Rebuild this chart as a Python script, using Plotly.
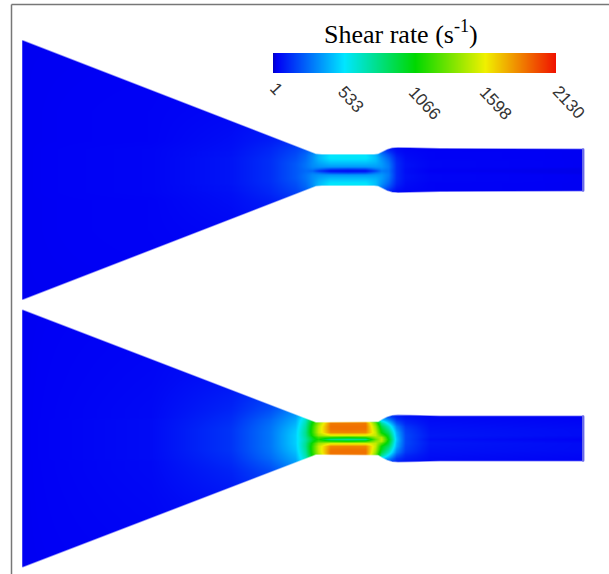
import numpy as np
import plotly.graph_objects as go

title_text = "Shear rate (s<sup>-1</sup>)"
tick_values = [1, 533, 1066, 1598, 2130]
tick_labels = ["1", "533", "1066", "1598", "2130"]
tick_label_x = [276, 351, 425, 496, 569]
tick_label_y = [88, 99, 103, 103, 102]

color_stops = [[0, "#0000c8"], [0.012, "#0000f5"], [0.25, "#00e6ff"], [0.5, "#00d800"], [0.75, "#f0f000"], [1, "#f01000"]]

station_x = [23, 150, 230, 270, 295, 305, 312, 318, 330, 347, 365, 375, 381, 388, 396, 405, 430, 583]
wall_offset = [0, 2, 4, 7, 10, 13, 16, 19, 22, 30, 60, 130]

outline_x = [23, 316, 322, 374, 378, 382, 387, 392, 398, 410, 440, 583]
upper_half = [130, 16.5, 16, 16, 16.5, 18.5, 21, 22.5, 23, 22.8, 22, 21.5]
lower_half = [129, 16.5, 16.5, 16.5, 17, 19.5, 22, 23.5, 24, 23.8, 23, 23]
upper_center = 170
lower_center = 438.5

upper_rate = [
    [25, 35, 70, 130, 220, 260, 250, 150, 50, 40, 50, 180, 300, 280, 120, 55, 25, 20],
    [25, 35, 70, 130, 220, 270, 300, 270, 190, 170, 190, 290, 330, 290, 120, 55, 30, 20],
    [25, 35, 70, 130, 220, 280, 330, 350, 360, 360, 360, 370, 360, 300, 120, 60, 35, 25],
    [25, 35, 70, 130, 220, 280, 340, 380, 430, 430, 430, 410, 370, 290, 120, 60, 35, 25],
    [25, 35, 70, 130, 210, 270, 340, 410, 490, 490, 490, 440, 360, 270, 110, 55, 35, 25],
    [25, 35, 70, 125, 200, 260, 340, 430, 540, 550, 540, 450, 340, 240, 100, 50, 30, 25],
    [25, 35, 65, 120, 190, 250, 330, 420, 530, 540, 530, 430, 300, 200, 80, 45, 30, 25],
    [25, 35, 65, 115, 180, 230, 300, 380, 500, 500, 500, 380, 240, 140, 60, 40, 30, 25],
    [25, 35, 60, 110, 170, 210, 250, 300, 350, 350, 350, 280, 160, 90, 50, 35, 25, 25],
    [25, 30, 55, 90, 130, 150, 160, 160, 160, 160, 160, 130, 90, 60, 40, 30, 25, 25],
    [25, 30, 40, 60, 70, 70, 70, 70, 70, 70, 70, 60, 50, 40, 30, 25, 25, 25],
    [25, 25, 30, 30, 30, 30, 30, 30, 30, 30, 30, 30, 30, 30, 25, 25, 25, 25],
]

lower_rate = [
    [25, 50, 140, 290, 480, 720, 980, 1120, 800, 760, 800, 1300, 1500, 1050, 450, 180, 60, 30],
    [25, 50, 140, 290, 480, 740, 1020, 1220, 1150, 1100, 1150, 1400, 1450, 1000, 440, 180, 70, 40],
    [25, 50, 140, 290, 480, 760, 1120, 1400, 1560, 1560, 1560, 1500, 1250, 950, 420, 180, 75, 50],
    [25, 50, 140, 290, 470, 770, 1170, 1500, 1850, 1860, 1850, 1500, 1050, 850, 400, 170, 70, 50],
    [25, 50, 140, 285, 460, 750, 1170, 1500, 1890, 1900, 1890, 1450, 1000, 750, 350, 160, 65, 50],
    [25, 50, 135, 280, 440, 730, 1150, 1480, 1900, 1900, 1900, 1400, 900, 650, 300, 140, 60, 45],
    [25, 50, 130, 270, 420, 700, 1100, 1400, 1880, 1880, 1880, 1300, 750, 500, 220, 110, 55, 40],
    [25, 50, 125, 260, 400, 660, 1000, 1250, 1700, 1700, 1700, 1000, 500, 350, 150, 90, 50, 35],
    [25, 45, 120, 240, 380, 600, 800, 950, 1200, 1200, 1200, 700, 350, 220, 110, 70, 45, 30],
    [25, 45, 105, 200, 320, 420, 500, 550, 550, 550, 550, 400, 200, 120, 70, 50, 35, 30],
    [25, 40, 70, 110, 130, 130, 130, 130, 130, 130, 130, 110, 80, 60, 40, 30, 25, 25],
    [25, 30, 35, 40, 40, 40, 40, 40, 40, 40, 40, 40, 35, 30, 25, 25, 25, 25],
]


def mirrored(center, table):
    half = np.array(table, dtype=float)
    z = np.vstack([half[:0:-1], half])
    off = np.array(wall_offset, dtype=float)
    y = np.concatenate([center - off[:0:-1], center + off])
    z = np.pad(z, 1, mode="edge")
    y = np.concatenate([[y[0] - 1], y, [y[-1] + 1]])
    x = np.concatenate([[station_x[0] - 0.5], station_x, [station_x[-1] + 1]])
    return x, y, z


fig = go.Figure()
for center, table in ((upper_center, upper_rate), (lower_center, lower_rate)):
    x, y, z = mirrored(center, table)
    fig.add_trace(go.Heatmap(x=x, y=y, z=z, zsmooth="best", coloraxis="coloraxis", hoverinfo="skip"))

for center, half in ((upper_center, upper_half), (lower_center, lower_half)):
    h = np.array(half)
    for sign in (-1, 1):
        xs = [outline_x[0] - 3] + outline_x + [outline_x[-1] + 3, outline_x[-1] + 3, outline_x[0] - 3]
        edge = center + sign * h
        far = center + sign * (h[0] + 3)
        ys = [edge[0]] + list(edge) + [edge[-1], far, far]
        fig.add_trace(go.Scatter(x=xs, y=ys, mode="lines", fill="toself", fillcolor="white",
                                 line=dict(color="rgba(255,255,255,0.55)", width=1.5),
                                 hoverinfo="skip", showlegend=False))
    fig.add_trace(go.Scatter(x=[outline_x[-1], outline_x[-1]], y=[center - h[-1], center + h[-1]], mode="lines",
                             line=dict(color="#6a6ae6", width=2), hoverinfo="skip", showlegend=False))

fig.add_trace(go.Heatmap(x=tick_values, y=[0, 1], z=[tick_values, tick_values], zsmooth="best",
                         coloraxis="coloraxis", xaxis="x2", yaxis="y2", hoverinfo="skip"))

for tx, ty, label in zip(tick_label_x, tick_label_y, tick_labels):
    fig.add_annotation(x=tx, y=ty, text=label, textangle=47, showarrow=False,
                       font=dict(family="Liberation Sans", size=17, color="#333333"))
fig.add_annotation(x=401, y=32, text=title_text, showarrow=False,
                   font=dict(family="Liberation Serif", size=26, color="black"))

hidden = dict(visible=False, showgrid=False, zeroline=False)
fig.update_layout(
    width=609, height=574, margin=dict(l=0, r=0, t=0, b=0),
    paper_bgcolor="white", plot_bgcolor="white", showlegend=False,
    coloraxis=dict(colorscale=color_stops, cmin=1, cmax=2130, showscale=False),
    xaxis=dict(range=[0, 609], domain=[0, 1], **hidden),
    yaxis=dict(range=[574, 0], domain=[0, 1], **hidden),
    xaxis2=dict(range=[1, 2130], domain=[273 / 609, 556 / 609], anchor="y2", **hidden),
    yaxis2=dict(range=[0, 1], domain=[1 - 73 / 574, 1 - 53 / 574], anchor="x2", **hidden),
    shapes=[
        dict(type="line", xref="x", yref="y", x0=11.5, x1=11.5, y0=4.5, y1=574, line=dict(color="#777777", width=1.5)),
        dict(type="line", xref="x", yref="y", x0=11.5, x1=609, y0=4.5, y1=4.5, line=dict(color="#777777", width=1.5)),
    ],
)
fig.write_html("out.html", config=dict(displayModeBar=False),
               post_script="document.body.style.margin='0';document.body.style.overflow='hidden';")
